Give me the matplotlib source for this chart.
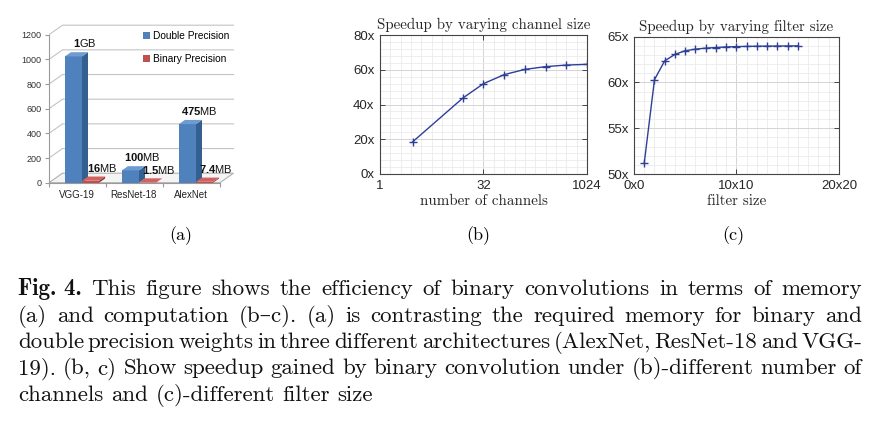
import matplotlib
matplotlib.use("Agg")
import matplotlib.pyplot as plt
from matplotlib.patches import Polygon, Patch
from matplotlib.ticker import FixedLocator, MultipleLocator, NullFormatter
import numpy as np

plt.rcParams['mathtext.fontset'] = 'custom'
plt.rcParams['mathtext.rm'] = 'Liberation Sans'
plt.rcParams['mathtext.bf'] = 'Liberation Sans:bold'
plt.rcParams['font.family'] = ['Liberation Sans', 'DejaVu Sans']

W, H = 887, 430

# (a) memory of the weights
nets = ["VGG-19", "ResNet-18", "AlexNet"]
double_mb = [1024, 100, 475]
binary_mb = [16, 1.5, 7.4]
double_txt = [r"$\mathbf{1}$GB", r"$\mathbf{100}$MB", r"$\mathbf{475}$MB"]
binary_txt = [r"$\mathbf{16}$MB", r"$\mathbf{1.5}$MB", r"$\mathbf{7.4}$MB"]
mem_ticks = [0, 200, 400, 600, 800, 1000, 1200]

# (b) speedup vs number of channels
channels = [3, 16, 32, 64, 128, 256, 512, 1024]
speed_ch = [18.6, 43.7, 52.0, 57.2, 60.2, 61.8, 62.7, 63.1]
ch_ticks = [1, 32, 1024]

# (c) speedup vs filter size
filt = list(range(1, 17))
speed_f = [51.2, 60.3, 62.35, 63.05, 63.45, 63.62, 63.73, 63.8,
           63.86, 63.9, 63.92, 63.94, 63.95, 63.96, 63.97, 63.98]
filt_ticks = [0, 10, 20]
filt_labels = ["0x0", "10x10", "20x20"]

caption_bold = "Fig. 4."
caption_lines = [
    "This figure shows the efficiency of binary convolutions in terms of memory",
    "(a) and computation (b\u2013c). (a) is contrasting the required memory for binary and",
    "double precision weights in three different architectures (AlexNet, ResNet-18 and VGG-",
    "19). (b, c) Show speedup gained by binary convolution under (b)-different number of",
    "channels and (c)-different filter size",
]

SERIF = ['cmr10', 'DejaVu Serif']
BOLD = ['cmb10', 'DejaVu Serif']


def box(l, t, r, b):
    return [l / W, 1 - b / H, (r - l) / W, (b - t) / H]


fig = plt.figure(figsize=(W / 100, H / 100), dpi=100)

# ---------------- (a) fake 3d excel bars ----------------
UX = 57.0           # px per category
UY = 148.0 / 1200   # px per MB
x0 = -(82 - 49) / UX
left_px, right_px, top_px, bot_px = 49, 240, 18, 182.7
axa = fig.add_axes(box(left_px, top_px, right_px, bot_px))
axa.set_xlim(x0, x0 + (right_px - left_px) / UX)
axa.set_ylim(0, (bot_px - top_px) / UY)
DX, DY = 13.5 / UX, 9.5 / UY
bdx, bdy = 6.0 / UX, 4.2 / UY
xf = x0 + 3

floor = Polygon([(x0, 0), (xf, 0), (xf + DX, DY), (x0 + DX, DY)], closed=True,
                facecolor='#f4f4f4', edgecolor='#b0b0b0', lw=0.8, zorder=1)
axa.add_patch(floor)
for v in mem_ticks[1:]:
    axa.plot([x0, x0 + DX, xf + DX], [v, v + DY, v + DY], color='#c4c4c4', lw=0.8, zorder=1)

bw = 0.3


def bar3d(xl, h, front, side, topc, z):
    axa.bar(xl + bw / 2, h, width=bw, color=front, zorder=z, linewidth=0)
    axa.add_patch(Polygon([(xl + bw, 0), (xl + bw + bdx, bdy), (xl + bw + bdx, h + bdy), (xl + bw, h)],
                          closed=True, facecolor=side, lw=0, zorder=z))
    axa.add_patch(Polygon([(xl, h), (xl + bw, h), (xl + bw + bdx, h + bdy), (xl + bdx, h + bdy)],
                          closed=True, facecolor=topc, lw=0, zorder=z))


for i in range(len(nets)):
    bar3d(i - bw, double_mb[i], '#4f81bd', '#345f91', '#6f9bd3', 3 + 2 * i)
    bar3d(i, binary_mb[i], '#c0504d', '#8f3532', '#d2625f', 4 + 2 * i)
    axa.annotate(double_txt[i], xy=(i, double_mb[i]), xytext=(3, 13), textcoords='offset pixels',
                 ha='center', va='center', fontsize=8, color='#111111', zorder=10)
    axa.annotate(binary_txt[i], xy=(i, binary_mb[i]), xytext=(20, 13), textcoords='offset pixels',
                 ha='center', va='center', fontsize=8, color='#111111', zorder=10)

for s in ['top', 'right']:
    axa.spines[s].set_visible(False)
axa.spines['left'].set_bounds(0, 1200)
axa.spines['bottom'].set_bounds(x0, xf)
for s in ['left', 'bottom']:
    axa.spines[s].set_color('#9a9a9a')
    axa.spines[s].set_linewidth(0.8)
axa.set_yticks(mem_ticks)
axa.set_yticklabels([str(v) for v in mem_ticks])
axa.set_xticks([i - 0.09 for i in range(len(nets))])
axa.set_xticklabels(nets)
axa.xaxis.set_minor_locator(FixedLocator([x0 + k for k in range(4)]))
axa.tick_params(axis='y', length=3, width=0.8, color='#9a9a9a', pad=2.5, labelsize=6.5, labelcolor='#333333')
axa.tick_params(axis='x', which='major', length=0, pad=5, labelsize=7, labelcolor='#222222')
axa.tick_params(axis='x', which='minor', length=3, width=0.8, color='#9a9a9a')
axa.patch.set_visible(False)
axa.legend([Patch(facecolor='#4f81bd'), Patch(facecolor='#c0504d')],
           ["Double Precision", "Binary Precision"], loc='upper left',
           bbox_to_anchor=((143 - left_px) / (right_px - left_px), 1 - (31 - top_px) / (bot_px - top_px)),
           frameon=False, fontsize=7.3, handlelength=0.7, handleheight=0.7,
           handletextpad=0.3, labelspacing=1.25, borderaxespad=0, borderpad=0)


# ---------------- (b), (c) matlab-like line plots ----------------
def style_line_axes(ax):
    ax.set_axisbelow(True)
    ax.grid(which='major', color='#d4d4d4', lw=0.7)
    ax.grid(which='minor', color='#ebebeb', lw=0.6)
    ax.tick_params(which='major', direction='in', top=True, right=True, length=3.5, width=0.7,
                   color='#444444', labelsize=9.5, labelcolor='#262626', pad=4)
    ax.tick_params(which='minor', length=0)
    for s in ax.spines.values():
        s.set_color('#444444')
        s.set_linewidth(0.8)


line_col = '#2f3f95'

axb = fig.add_axes(box(380, 35, 587, 174))
axb.plot(channels, speed_ch, color=line_col, lw=1.0, marker='+', ms=6, mew=1.0)
axb.set_xscale('log', base=2)
axb.set_xlim(1, 1024)
axb.set_ylim(0, 80)
axb.set_xticks(ch_ticks)
axb.set_xticklabels([str(v) for v in ch_ticks])
axb.xaxis.set_minor_locator(FixedLocator(2 ** np.arange(0.5, 10, 0.5)))
axb.xaxis.set_minor_formatter(NullFormatter())
axb.yaxis.set_major_locator(MultipleLocator(20))
axb.yaxis.set_minor_locator(MultipleLocator(4))
axb.set_yticks([0, 20, 40, 60, 80])
axb.set_yticklabels(["%dx" % v for v in [0, 20, 40, 60, 80]])
style_line_axes(axb)
axb.set_title("Speedup by varying channel size", family=SERIF, fontsize=10.8, pad=4, color='#262626')
axb.set_xlabel("number of channels", family=SERIF, fontsize=10.8, labelpad=2, color='#262626')

axc = fig.add_axes(box(634, 36.5, 839, 174))
axc.plot(filt, speed_f, color=line_col, lw=1.0, marker='+', ms=6, mew=1.0)
axc.set_xlim(0, 20)
axc.set_ylim(50, 65)
axc.set_xticks(filt_ticks)
axc.set_xticklabels(filt_labels)
axc.xaxis.set_minor_locator(MultipleLocator(1))
axc.set_yticks([50, 55, 60, 65])
axc.set_yticklabels(["%dx" % v for v in [50, 55, 60, 65]])
axc.yaxis.set_minor_locator(MultipleLocator(1))
style_line_axes(axc)
axc.set_title("Speedup by varying filter size", family=SERIF, fontsize=10.8, pad=4, color='#262626')
axc.set_xlabel("filter size", family=SERIF, fontsize=10.8, labelpad=2, color='#262626')

# sub-figure labels
for lab, xc in [("(a)", 181), ("(b)", 478), ("(c)", 733)]:
    fig.text(xc / W, 1 - 236 / H, lab, family=SERIF, fontsize=13, ha='center', va='center')

# ---------------- caption, justified by hand ----------------
renderer = fig.canvas.get_renderer()
cap_size = 16.5
cap_left, cap_right = 18, 862
baselines = [295, 321.5, 348, 374.5, 401]

for n, line in enumerate(caption_lines):
    words = [(w, SERIF) for w in line.split(' ')]
    if n == 0:
        words = [(caption_bold, BOLD)] + words
    texts = []
    for w, fam in words:
        t = fig.text(0, 1 - baselines[n] / H, w, family=fam, fontsize=cap_size,
                     ha='left', va='baseline', color='#111111')
        texts.append(t)
    widths = [t.get_window_extent(renderer).width for t in texts]
    if n < len(caption_lines) - 1:
        gap = (cap_right - cap_left - sum(widths)) / (len(texts) - 1)
    else:
        gap = cap_size * 100 / 72 * 0.333
    x = cap_left
    for t, wd in zip(texts, widths):
        t.set_x(x / W)
        x += wd + gap

fig.savefig("out.png", dpi=100)
